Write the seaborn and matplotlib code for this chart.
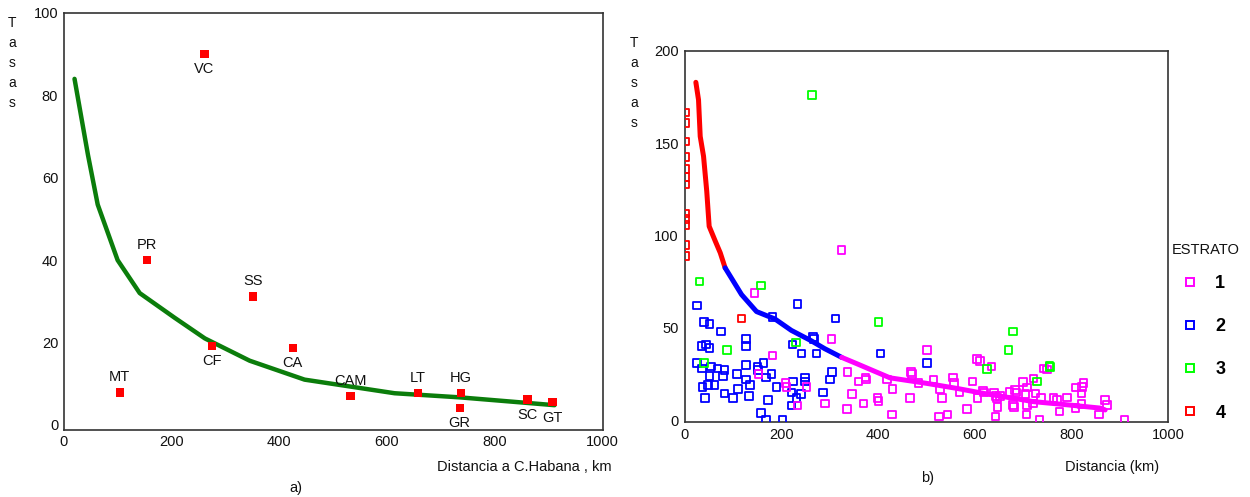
# Tasas vs distancia a C.Habana - two panels
import numpy as np
import pandas as pd
import matplotlib
matplotlib.use("Agg")
import matplotlib.pyplot as plt
import seaborn as sns
from matplotlib.lines import Line2D

sns.set_style("white")
plt.rcParams['font.family'] = ['Liberation Sans', 'DejaVu Sans']

# ===========================
# panel a) provinces
# ===========================
prov = ['VC', 'PR', 'SS', 'MT', 'CF', 'CA', 'CAM', 'LT', 'HG', 'GR', 'SC', 'GT']
prov_dist = [261, 154, 351, 104, 275, 425, 532, 657, 737, 735, 861, 907]
prov_tasa = [90, 40, 31.2, 7.9, 19.2, 18.7, 7.0, 7.7, 7.7, 4.1, 6.2, 5.5]
# label above (1) or below (-1) the point
prov_pos = [-1, 1, 1, 1, -1, -1, 1, 1, 1, -1, -1, -1]

fit_a_x = [20, 45, 63, 100, 141, 206, 262, 345, 447, 614, 735, 911]
fit_a_y = [84, 65.5, 53.5, 40, 32, 26, 21, 15.6, 11, 7.7, 6.7, 4.8]

# ===========================
# panel b) municipios by ESTRATO
# ===========================
e1_x = [145, 325, 304, 182, 153, 209, 211, 252, 234, 290,
        501, 605, 611, 635, 337, 360, 374, 376, 419, 430,
        468, 470, 484, 515, 529, 555, 558, 569, 596, 617, 619,
        606, 640, 643, 646, 647, 643, 347, 370, 399, 401, 466, 533,
        336, 429, 526, 544, 584,
        743, 750, 722, 700, 708, 653, 672, 684, 687,
        705, 726, 737, 763, 771, 791, 810, 825, 822, 821,
        680, 681, 709, 721, 809, 821, 870, 874, 857, 707, 776, 734, 910]
e1_y = [69, 92, 44, 35, 25, 20, 18, 18, 8, 9,
        38, 33, 32, 29, 26, 21, 23, 22, 22, 17,
        26, 25, 20, 22, 17, 23, 20, 15, 21, 16, 15,
        12, 15, 13, 12, 7, 2, 14, 9, 12, 10.5, 12, 12,
        6, 3, 2, 3, 6,
        28, 27.5, 22.6, 20.5, 17.6, 13.2, 15.3, 16.3, 15,
        14, 14.5, 12, 12, 11, 12.2, 17.6, 20, 18, 14.5,
        8.3, 7, 8.3, 9, 6.5, 8.6, 11, 8.3, 3, 3, 4.6, 0, 0]

e2_x = [26, 234, 182, 312, 40, 52, 75, 127, 127, 223,
        266, 268, 35, 45, 52, 242, 273, 26, 36, 55,
        68, 83, 80, 52, 109, 127, 151, 152, 163, 169,
        180, 127, 135, 37, 49, 62, 83, 100, 111, 43,
        133, 190, 173, 225, 249, 249, 221, 241, 232, 221,
        287, 301, 305, 158, 169, 203, 405, 501]
e2_y = [62, 63, 56, 55, 53, 52, 48, 44, 40, 41,
        45, 44, 40, 41, 39, 36, 36, 31, 28, 29,
        28, 27, 24, 24, 25, 30, 29, 27, 31, 23,
        25, 22, 19, 18, 19, 19, 14.5, 12, 17, 12,
        13, 18, 11, 21, 23, 21, 15, 14, 12, 8,
        15, 22, 26, 4, 0, 0, 36, 31]

e3_x = [31, 158, 230, 88, 40, 264, 401, 626, 680, 670, 755, 756, 729]
e3_y = [75, 73, 42, 38, 31, 176, 53, 27.6, 48, 38, 29.4, 28.7, 21]

e4_x = [2, 2, 2, 2, 2, 2, 2, 2, 2, 2, 2, 2, 118]
e4_y = [166.6, 161, 151, 142.5, 136, 131.7, 127.6, 112, 109, 105.6, 95, 88.8, 55]

# fitted curve, one piece per estrato
fit4_x = [23.5, 29, 32.5, 39.4, 46, 51, 63.6, 74, 84]
fit4_y = [183, 173.5, 153.7, 142.9, 124, 105, 97, 90.6, 82.5]
fit2_x = [84, 118, 149, 187, 221, 262, 290, 325]
fit2_y = [82.5, 68, 58.8, 54.8, 48.6, 43, 38.7, 34]
fit1_x = [325, 356, 425, 501, 563, 618, 660, 722, 791, 860, 870]
fit1_y = [34, 30.6, 22.9, 19.9, 17.2, 14.5, 12.7, 10, 8.3, 6.5, 5.5]

estratos = ['1', '2', '3', '4']
colores = ['#ff00ff', '#0000ff', '#00ff00', '#ff0000']

# ===========================
# figure
# ===========================
fig = plt.figure(figsize=(12.5, 4.97), dpi=100)
ax1 = fig.add_axes([0.051, 0.135, 0.431, 0.839])
ax2 = fig.add_axes([0.5476, 0.151, 0.3868, 0.7465])

for ax in (ax1, ax2):
    for sp in ax.spines.values():
        sp.set_visible(True)
        sp.set_color('#333333')
        sp.set_linewidth(1.2)
    ax.tick_params(direction='inout', length=4, width=3, color='black',
                   labelsize=10.5, pad=2, labelcolor='#111111')
    ax.set_xlabel('')
    ax.set_ylabel('')

# --- panel a
sns.lineplot(x=fit_a_x, y=fit_a_y, ax=ax1, color='#0b7d0b', linewidth=3.2,
             sort=False, estimator=None)
sns.scatterplot(x=prov_dist, y=prov_tasa, ax=ax1, color='#ff0000', marker='s',
                s=36, edgecolor='none', zorder=3)
for name, dx, ty, pos in zip(prov, prov_dist, prov_tasa, prov_pos):
    ax1.annotate(name, (dx, ty), xytext=(0, 6 * pos), textcoords='offset points',
                 ha='center', va='bottom' if pos > 0 else 'top', fontsize=10.5,
                 color='#111111')
ax1.set_xlim(0, 1000)
ax1.set_ylim(-1.2, 100)
ax1.set_xticks([0, 200, 400, 600, 800, 1000])
ax1.set_yticks([0, 20, 40, 60, 80, 100])

# --- panel b
for fx, fy, c in [(fit4_x, fit4_y, colores[3]), (fit2_x, fit2_y, colores[1]),
                  (fit1_x, fit1_y, colores[0])]:
    sns.lineplot(x=fx, y=fy, ax=ax2, color=c, linewidth=3.6, sort=False,
                 estimator=None, zorder=2)

for xs, ys, c in [(e2_x, e2_y, colores[1]), (e1_x, e1_y, colores[0]),
                  (e3_x, e3_y, colores[2]), (e4_x, e4_y, colores[3])]:
    sns.scatterplot(x=xs, y=ys, ax=ax2, marker='s', s=30, facecolor='none',
                    edgecolor=c, linewidth=1.3, zorder=3)

ax2.set_xlim(0, 1000)
ax2.set_ylim(-1, 200)
ax2.set_xticks([0, 200, 400, 600, 800, 1000])
ax2.set_yticks([0, 50, 100, 150, 200])

handles = [Line2D([], [], linestyle='none', marker='s', markersize=6,
                  markerfacecolor='none', markeredgecolor=c, markeredgewidth=1.4)
           for c in colores]
leg = ax2.legend(handles, estratos, loc='upper left',
                 bbox_to_anchor=(1172 / 1250, 1 - 275 / 497),
                 bbox_transform=fig.transFigure, frameon=False,
                 labelspacing=1.45, handletextpad=0.4, borderpad=0,
                 borderaxespad=0.0, labelcolor='black',
                 prop={'weight': 'bold', 'size': 13})

# --- texts
fig.text(1172 / 1250, 1 - 250 / 497, 'ESTRATO', ha='left', va='center',
         fontsize=10.5, color='#111111')
fig.text(12 / 1250, 1 - 16 / 497, 'T\na\ns\na\ns', ha='center', va='top',
         fontsize=10, linespacing=1.55, color='#111111')
fig.text(634 / 1250, 1 - 36 / 497, 'T\na\ns\na\ns', ha='center', va='top',
         fontsize=10, linespacing=1.55, color='#111111')
fig.text(612 / 1250, 1 - 467 / 497, 'Distancia a C.Habana , km', ha='right',
         va='center', fontsize=10.5, color='#111111')
fig.text(1112 / 1250, 1 - 467 / 497, 'Distancia (km)', ha='center',
         va='center', fontsize=10.5, color='#111111')
fig.text(296 / 1250, 1 - 488 / 497, 'a)', ha='center', va='center', fontsize=10.5,
         color='#111111')
fig.text(928 / 1250, 1 - 478 / 497, 'b)', ha='center', va='center', fontsize=10.5,
         color='#111111')

fig.savefig('out.png', dpi=100, facecolor='white')
